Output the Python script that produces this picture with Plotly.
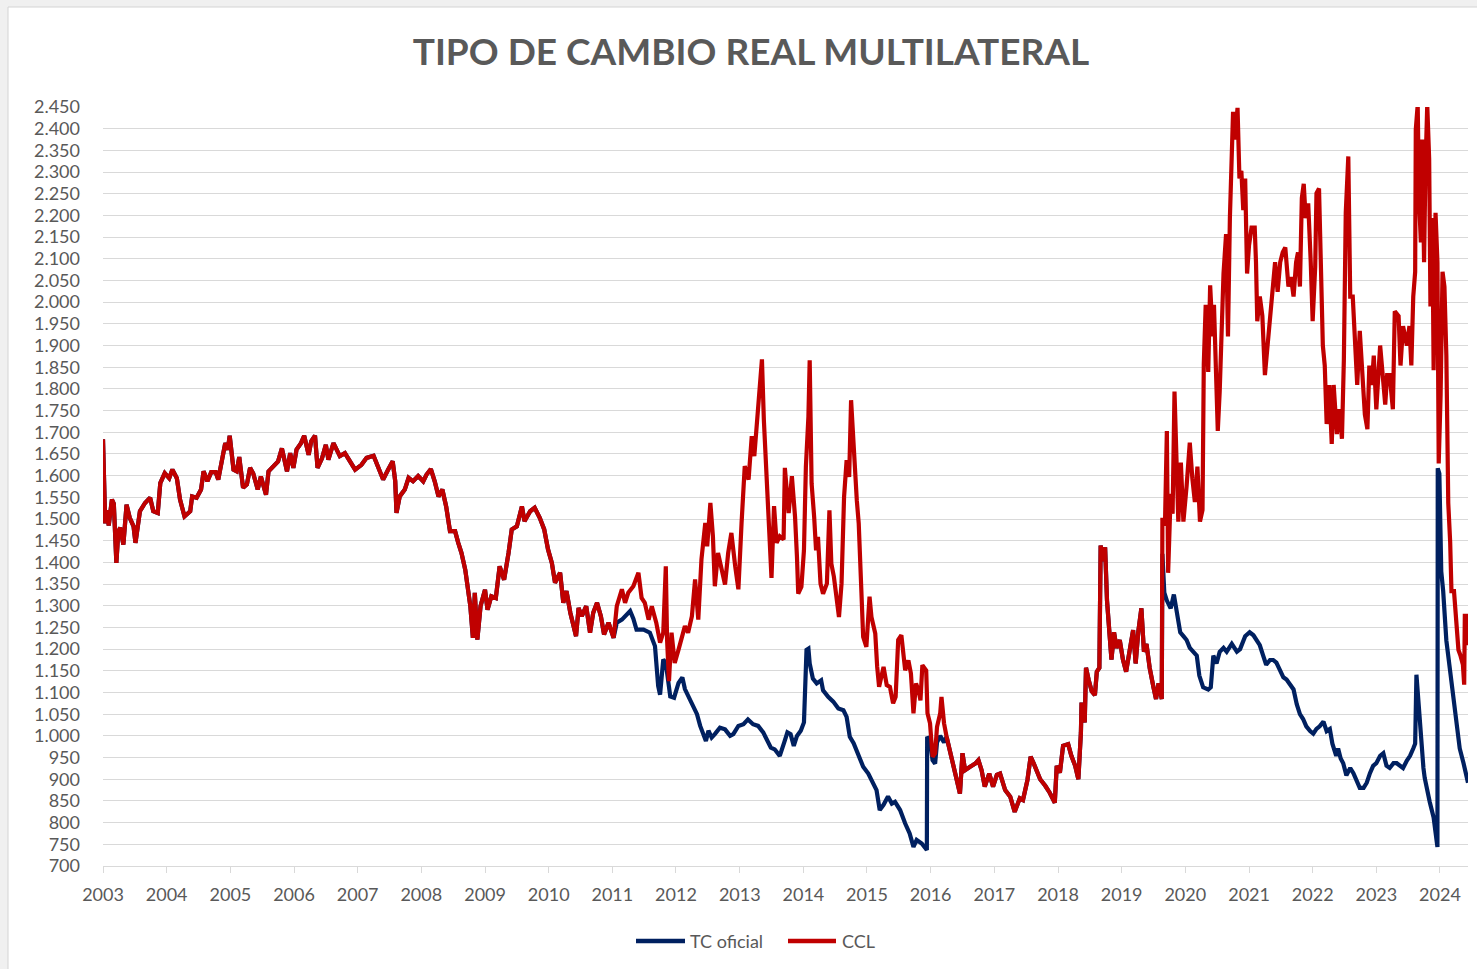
import pandas as pd
import plotly.graph_objects as go

# ---------------- DATA (decimal year, index value) ----------------
# 2003-2011: both series coincide
anios_comun = [2003.00, 2003.01, 2003.025, 2003.035, 2003.06, 2003.09, 2003.14, 2003.17, 2003.21, 2003.24,
               2003.27, 2003.30, 2003.32, 2003.37, 2003.42, 2003.48, 2003.51, 2003.58, 2003.66, 2003.74,
               2003.79, 2003.86, 2003.90, 2003.97, 2004.04, 2004.09, 2004.16, 2004.21, 2004.28, 2004.37,
               2004.40, 2004.47, 2004.54, 2004.58, 2004.64, 2004.70, 2004.77, 2004.81, 2004.86, 2004.92,
               2004.96, 2004.99, 2005.05, 2005.10, 2005.14, 2005.20, 2005.26, 2005.31, 2005.36, 2005.43,
               2005.48, 2005.56, 2005.60, 2005.68, 2005.75, 2005.81, 2005.89, 2005.94, 2005.99, 2006.04,
               2006.11, 2006.16, 2006.23, 2006.27, 2006.33, 2006.37, 2006.44, 2006.50, 2006.54, 2006.62,
               2006.72, 2006.80, 2006.88, 2006.96, 2007.06, 2007.14, 2007.25, 2007.32, 2007.40, 2007.48,
               2007.55, 2007.59, 2007.61, 2007.66, 2007.74, 2007.80, 2007.87, 2007.95, 2008.03, 2008.08,
               2008.15, 2008.21, 2008.27, 2008.33, 2008.39, 2008.45, 2008.53, 2008.58, 2008.63, 2008.69,
               2008.74, 2008.77, 2008.81, 2008.84, 2008.88, 2008.93, 2009.00, 2009.04, 2009.10, 2009.17,
               2009.23, 2009.30, 2009.37, 2009.42, 2009.50, 2009.58, 2009.62, 2009.71, 2009.78, 2009.86,
               2009.93, 2009.99, 2010.05, 2010.10, 2010.15, 2010.18, 2010.23, 2010.28, 2010.34, 2010.39,
               2010.43, 2010.47, 2010.52, 2010.59, 2010.65, 2010.70, 2010.76, 2010.82, 2010.87, 2010.94,
               2011.02]
valores_comun = [1684, 1640, 1580, 1490, 1520, 1485, 1545, 1535, 1399, 1470,
                 1480, 1450, 1441, 1533, 1503, 1483, 1445, 1518, 1537, 1549,
                 1518, 1514, 1583, 1606, 1594, 1614, 1594, 1545, 1506, 1518,
                 1552, 1549, 1568, 1610, 1587, 1608, 1608, 1591, 1625, 1675,
                 1660, 1692, 1614, 1610, 1643, 1572, 1580, 1618, 1605, 1568,
                 1598, 1556, 1610, 1621, 1633, 1663, 1610, 1652, 1618, 1660,
                 1675, 1692, 1648, 1679, 1692, 1618, 1640, 1671, 1637, 1675,
                 1645, 1652, 1633, 1614, 1625, 1641, 1646, 1622, 1591, 1614,
                 1633, 1587, 1514, 1552, 1568, 1595, 1587, 1599, 1587, 1602,
                 1615, 1587, 1552, 1568, 1529, 1472, 1472, 1445, 1422, 1383,
                 1337, 1299, 1226, 1330, 1222, 1299, 1337, 1291, 1322, 1318,
                 1391, 1360, 1422, 1476, 1483, 1529, 1495, 1518, 1526, 1503,
                 1476, 1430, 1399, 1353, 1368, 1376, 1307, 1334, 1284, 1253,
                 1230, 1295, 1276, 1299, 1238, 1284, 1307, 1276, 1234, 1261,
                 1226]

# 2011-2016: CCL
anios_ccl_1 = [2011.07, 2011.15, 2011.20, 2011.25, 2011.33, 2011.41, 2011.46, 2011.51, 2011.57, 2011.62,
               2011.69, 2011.75, 2011.80, 2011.84, 2011.86, 2011.89, 2011.93, 2011.98, 2012.04, 2012.09,
               2012.14, 2012.19, 2012.25, 2012.30, 2012.35, 2012.40, 2012.46, 2012.49, 2012.54, 2012.58,
               2012.61, 2012.66, 2012.72, 2012.77, 2012.82, 2012.87, 2012.93, 2012.98, 2013.03, 2013.08,
               2013.14, 2013.19, 2013.23, 2013.27, 2013.31, 2013.35, 2013.38, 2013.42, 2013.46, 2013.50,
               2013.54, 2013.58, 2013.63, 2013.69, 2013.71, 2013.77, 2013.82, 2013.87, 2013.90, 2013.92,
               2013.97, 2014.01, 2014.04, 2014.08, 2014.10, 2014.13, 2014.17, 2014.20, 2014.23, 2014.27,
               2014.31, 2014.37, 2014.41, 2014.44, 2014.48, 2014.52, 2014.56, 2014.60, 2014.64, 2014.68,
               2014.72, 2014.75, 2014.77, 2014.81, 2014.84, 2014.87, 2014.90, 2014.94, 2014.99, 2015.04,
               2015.07, 2015.13, 2015.16, 2015.19, 2015.26, 2015.31, 2015.36, 2015.41, 2015.45, 2015.49,
               2015.54, 2015.60, 2015.65, 2015.69, 2015.73, 2015.77, 2015.81, 2015.84, 2015.87, 2015.93,
               2015.95, 2015.99, 2016.03, 2016.07, 2016.10, 2016.15, 2016.17, 2016.21]
ccl_1 = [1299, 1338, 1307, 1330, 1345, 1376, 1318, 1307, 1268, 1299,
         1261, 1215, 1238, 1391, 1222, 1126, 1238, 1168, 1199, 1222,
         1253, 1238, 1276, 1361, 1268, 1407, 1491, 1437, 1537, 1460,
         1345, 1422, 1376, 1349, 1422, 1468, 1391, 1338, 1491, 1622,
         1591, 1691, 1645, 1722, 1783, 1868, 1729, 1606, 1453, 1364,
         1530, 1445, 1460, 1453, 1618, 1514, 1599, 1505, 1413, 1328,
         1344, 1428, 1620, 1736, 1866, 1582, 1505, 1428, 1459, 1351,
         1328, 1351, 1520, 1397, 1367, 1321, 1274, 1351, 1551, 1636,
         1597, 1774, 1712, 1628, 1543, 1490, 1351, 1228, 1205, 1321,
         1274, 1236, 1159, 1113, 1159, 1117, 1113, 1075, 1090, 1221,
         1232, 1151, 1174, 1144, 1052, 1121, 1105, 1082, 1163, 1151,
         1052, 1029, 952, 960, 1021, 1052, 1090, 1029]

# 2011-2016: TC oficial
anios_oficial_1 = [2011.07, 2011.15, 2011.28, 2011.33, 2011.38, 2011.49, 2011.59, 2011.67, 2011.72, 2011.75,
                   2011.80, 2011.84, 2011.91, 2011.97, 2012.04, 2012.10, 2012.14, 2012.19, 2012.27, 2012.33,
                   2012.38, 2012.43, 2012.47, 2012.51, 2012.56, 2012.61, 2012.69, 2012.77, 2012.85, 2012.90,
                   2012.98, 2013.06, 2013.13, 2013.21, 2013.29, 2013.37, 2013.43, 2013.49, 2013.55, 2013.63,
                   2013.70, 2013.75, 2013.80, 2013.85, 2013.90, 2013.96, 2014.01, 2014.05, 2014.08, 2014.10,
                   2014.15, 2014.21, 2014.28, 2014.31, 2014.39, 2014.47, 2014.55, 2014.63, 2014.68, 2014.73,
                   2014.79, 2014.86, 2014.94, 2015.02, 2015.10, 2015.15, 2015.20, 2015.26, 2015.33, 2015.39,
                   2015.44, 2015.52, 2015.60, 2015.67, 2015.73, 2015.78, 2015.86, 2015.94, 2015.945, 2015.99,
                   2016.03, 2016.07, 2016.10, 2016.15, 2016.21]
oficial_1 = [1261, 1268, 1288, 1270, 1245, 1245, 1238, 1207, 1115, 1095,
             1176, 1168, 1091, 1088, 1122, 1135, 1108, 1092, 1069, 1050,
             1023, 1000, 988, 1012, 996, 1004, 1019, 1015, 1000, 1004,
             1023, 1027, 1038, 1027, 1023, 1008, 988, 973, 969, 954,
             985, 1008, 1004, 977, 1000, 1012, 1031, 1198, 1201, 1167,
             1132, 1121, 1128, 1105, 1090, 1079, 1063, 1059, 1044, 998,
             983, 956, 929, 913, 890, 875, 829, 841, 860, 844,
             848, 829, 798, 775, 744, 760, 752, 737, 998, 990,
             944, 936, 985, 1000, 985]

# 2016-2019: unified exchange rate, both series coincide
anios_unif = [2016.25, 2016.30, 2016.36, 2016.41, 2016.46, 2016.50, 2016.54, 2016.62, 2016.70, 2016.75,
              2016.80, 2016.85, 2016.92, 2016.98, 2017.04, 2017.09, 2017.17, 2017.25, 2017.32, 2017.40,
              2017.45, 2017.52, 2017.57, 2017.62, 2017.66, 2017.72, 2017.80, 2017.87, 2017.95, 2017.98,
              2018.03, 2018.08, 2018.16, 2018.21, 2018.27, 2018.32, 2018.36, 2018.37, 2018.42, 2018.44,
              2018.48, 2018.53, 2018.58, 2018.61, 2018.65, 2018.67, 2018.71, 2018.74, 2018.77, 2018.81,
              2018.84, 2018.88, 2018.92, 2018.97, 2019.02, 2019.07, 2019.13, 2019.18, 2019.22, 2019.26,
              2019.31, 2019.35, 2019.39, 2019.44, 2019.50, 2019.54, 2019.58, 2019.63]
valores_unif = [998, 967, 929, 890, 867, 960, 921, 929, 936, 944,
                921, 883, 913, 883, 910, 913, 875, 860, 825, 856,
                852, 898, 952, 936, 921, 900, 885, 869, 846, 931,
                915, 977, 981, 954, 931, 900, 1008, 1077, 1031, 1157,
                1130, 1103, 1094, 1148, 1157, 1439, 1403, 1435, 1312, 1239,
                1176, 1239, 1203, 1221, 1176, 1148, 1194, 1244, 1167, 1239,
                1294, 1194, 1212, 1157, 1112, 1085, 1121, 1085]

# 2019-2024: CCL
anios_ccl_2 = [2019.64, 2019.68, 2019.71, 2019.73, 2019.77, 2019.80, 2019.83, 2019.86, 2019.89, 2019.93,
               2019.97, 2020.02, 2020.07, 2020.11, 2020.15, 2020.19, 2020.23, 2020.27, 2020.29, 2020.32,
               2020.36, 2020.39, 2020.43, 2020.45, 2020.48, 2020.51, 2020.54, 2020.57, 2020.60, 2020.64,
               2020.67, 2020.70, 2020.73, 2020.75, 2020.78, 2020.82, 2020.85, 2020.88, 2020.91, 2020.94,
               2020.97, 2021.00, 2021.04, 2021.09, 2021.11, 2021.13, 2021.17, 2021.21, 2021.25, 2021.29,
               2021.33, 2021.37, 2021.41, 2021.45, 2021.49, 2021.53, 2021.57, 2021.62, 2021.66, 2021.70,
               2021.74, 2021.77, 2021.80, 2021.83, 2021.86, 2021.89, 2021.93, 2021.97, 2022.00, 2022.04,
               2022.06, 2022.10, 2022.13, 2022.16, 2022.19, 2022.22, 2022.26, 2022.30, 2022.33, 2022.38,
               2022.42, 2022.46, 2022.49, 2022.52, 2022.56, 2022.59, 2022.63, 2022.66, 2022.70, 2022.74,
               2022.78, 2022.82, 2022.86, 2022.89, 2022.93, 2022.96, 2023.00, 2023.06, 2023.10, 2023.14,
               2023.17, 2023.21, 2023.26, 2023.29, 2023.35, 2023.38, 2023.42, 2023.48, 2023.52, 2023.55,
               2023.58, 2023.61, 2023.62, 2023.65, 2023.67, 2023.70, 2023.72, 2023.75, 2023.77, 2023.80,
               2023.83, 2023.85, 2023.88, 2023.90, 2023.93, 2023.96, 2023.98, 2024.01, 2024.04, 2024.07,
               2024.10, 2024.13, 2024.16, 2024.18, 2024.22, 2024.25, 2024.29, 2024.32, 2024.36, 2024.38,
               2024.39, 2024.43, 2024.44]
ccl_2 = [1503, 1485, 1703, 1376, 1558, 1512, 1794, 1649, 1494, 1630,
         1494, 1576, 1676, 1594, 1539, 1621, 1494, 1521, 1857, 1994,
         1839, 2039, 1921, 1994, 1812, 1703, 1794, 1957, 2066, 2157,
         1921, 2194, 2348, 2439, 2375, 2448, 2285, 2303, 2212, 2285,
         2066, 2130, 2172, 2172, 2092, 1956, 2013, 1968, 1832, 1900,
         1968, 2036, 2092, 2024, 2092, 2115, 2126, 2036, 2058, 2013,
         2092, 2115, 2036, 2240, 2273, 2194, 2228, 2092, 1956, 2081,
         2251, 2262, 2058, 1900, 1854, 1719, 1809, 1673, 1809, 1696,
         1753, 1685, 1866, 2206, 2336, 2013, 2013, 1922, 1809, 1934,
         1832, 1741, 1707, 1854, 1809, 1877, 1753, 1900, 1832, 1764,
         1832, 1832, 1753, 1979, 1968, 1854, 1945, 1900, 1945, 1854,
         2013, 2070, 2398, 2455, 2240, 2138, 2375, 2092, 2296, 2455,
         2330, 1990, 2194, 1843, 2206, 2092, 1628, 1787, 2070, 2036,
         1877, 1537, 1447, 1334, 1334, 1277, 1198, 1186, 1164, 1118,
         1277, 1277, 1209]

# 2019-2024: TC oficial
anios_oficial_2 = [2019.64, 2019.67, 2019.71, 2019.77, 2019.82, 2019.86, 2019.92, 2019.97, 2020.02, 2020.07,
                   2020.13, 2020.18, 2020.22, 2020.28, 2020.36, 2020.40, 2020.44, 2020.49, 2020.54, 2020.60,
                   2020.65, 2020.73, 2020.81, 2020.86, 2020.94, 2021.01, 2021.07, 2021.12, 2021.17, 2021.22,
                   2021.27, 2021.33, 2021.38, 2021.43, 2021.49, 2021.54, 2021.59, 2021.64, 2021.70, 2021.75,
                   2021.80, 2021.85, 2021.90, 2021.96, 2022.01, 2022.06, 2022.11, 2022.17, 2022.22, 2022.27,
                   2022.31, 2022.37, 2022.40, 2022.44, 2022.48, 2022.53, 2022.59, 2022.64, 2022.69, 2022.74,
                   2022.80, 2022.85, 2022.90, 2022.95, 2023.00, 2023.06, 2023.11, 2023.16, 2023.21, 2023.27,
                   2023.32, 2023.37, 2023.42, 2023.48, 2023.53, 2023.58, 2023.61, 2023.63, 2023.66, 2023.69,
                   2023.71, 2023.74, 2023.76, 2023.79, 2023.84, 2023.90, 2023.95, 2023.96, 2023.965, 2023.99,
                   2024.02, 2024.05, 2024.10, 2024.16, 2024.21, 2024.26, 2024.31, 2024.37, 2024.42, 2024.44]
oficial_2 = [1420, 1330, 1312, 1294, 1326, 1285, 1239, 1230, 1221, 1203,
             1194, 1185, 1139, 1112, 1107, 1112, 1185, 1167, 1194, 1203,
             1194, 1212, 1194, 1200, 1230, 1239, 1232, 1220, 1209, 1186,
             1164, 1175, 1175, 1169, 1152, 1135, 1130, 1118, 1107, 1073,
             1050, 1039, 1022, 1011, 1005, 1016, 1022, 1033, 1011, 1016,
             982, 954, 971, 948, 937, 909, 926, 914, 897, 880,
             880, 892, 914, 931, 937, 954, 960, 931, 926, 937,
             937, 931, 926, 943, 954, 971, 982, 1141, 1073, 1016,
             994, 926, 903, 880, 847, 812, 767, 744, 1617, 1605,
             1379, 1334, 1220, 1152, 1084, 1028, 971, 937, 903, 892]

anios_ticks = list(range(2003, 2025))
titulo = "TIPO DE CAMBIO REAL MULTILATERAL"
nombres = ["TC oficial", "CCL"]
colores = ["#002060", "#C00000"]


def a_fecha(anios):
    base = pd.Timestamp("2003-01-01")
    return [base + pd.Timedelta(days=(a - 2003) * 365.25) for a in anios]


x_oficial = a_fecha(anios_comun + anios_oficial_1 + anios_unif + anios_oficial_2)
y_oficial = valores_comun + oficial_1 + valores_unif + oficial_2
x_ccl = a_fecha(anios_comun + anios_ccl_1 + anios_unif + anios_ccl_2)
y_ccl = valores_comun + ccl_1 + valores_unif + ccl_2

GRIS = "#595959"
FUENTE = "Lato"

fig = go.Figure()
fig.add_trace(go.Scatter(x=x_oficial, y=y_oficial, mode="lines", name=nombres[0],
                         line=dict(color=colores[0], width=4.2)))
fig.add_trace(go.Scatter(x=x_ccl, y=y_ccl, mode="lines", name=nombres[1],
                         line=dict(color=colores[1], width=4.2)))

# layout geometry (pixels)
L, R, T, B = 103, 9, 107, 103
W, H = 1477, 969
pw, ph = W - L - R, H - T - B
def px_x(p):
    return (p - L) / pw
def px_y(p):
    return (H - B - p) / ph

# chart frame (light gray page border at left/top)
fig.add_shape(type="rect", xref="paper", yref="paper",
              x0=px_x(8), x1=px_x(W + 5), y0=px_y(H + 5), y1=px_y(7),
              fillcolor="white", line=dict(color="#d4d4d4", width=1), layer="below")

# Excel-style legend at bottom (long line samples)
leyenda_pos = [(636, 685, 688), (788, 836, 840)]
for (xa, xb, xt), nombre, color in zip(leyenda_pos, nombres, colores):
    fig.add_shape(type="line", xref="paper", yref="paper",
                  x0=px_x(xa), x1=px_x(xb), y0=px_y(941), y1=px_y(941),
                  line=dict(color=color, width=4.5))
    fig.add_annotation(xref="paper", yref="paper", x=px_x(xt), y=px_y(941),
                       text=nombre, showarrow=False, xanchor="left", yanchor="middle",
                       font=dict(family=FUENTE, size=18, color=GRIS))

fig.update_layout(
    width=W, height=H,
    margin=dict(l=L, r=R, t=T, b=B),
    paper_bgcolor="#f0f0f0",
    plot_bgcolor="rgba(0,0,0,0)",
    separators=",.",
    font=dict(family=FUENTE, color=GRIS, size=18),
    title=dict(text="<b>" + titulo + "</b>", x=751 / W, xref="container", xanchor="center",
               y=1 - 52 / H, yref="container", yanchor="middle",
               font=dict(family=FUENTE, size=37, color=GRIS)),
    showlegend=False,
)

fig.update_xaxes(
    type="date",
    range=[a_fecha([2003.0])[0], a_fecha([2024.44])[0]],
    tickvals=[pd.Timestamp(f"{a}-01-01") for a in anios_ticks],
    ticktext=[str(a) for a in anios_ticks],
    showgrid=False, showline=True, linecolor="#d9d9d9", linewidth=1,
    ticks="outside", ticklen=6, tickcolor="#d9d9d9",
    tickfont=dict(family=FUENTE, size=18, color=GRIS),
    ticklabelstandoff=6, zeroline=False,
)
fig.update_yaxes(
    range=[700, 2450], dtick=50, tick0=700, tickformat=",d",
    showgrid=True, gridcolor="#d9d9d9", gridwidth=1,
    showline=False, zeroline=False, ticks="",
    tickfont=dict(family=FUENTE, size=18, color=GRIS),
    ticklabelstandoff=22,
)

fig.write_html("out.html", config={"displayModeBar": False},
               post_script="document.body.style.margin='0px';")
